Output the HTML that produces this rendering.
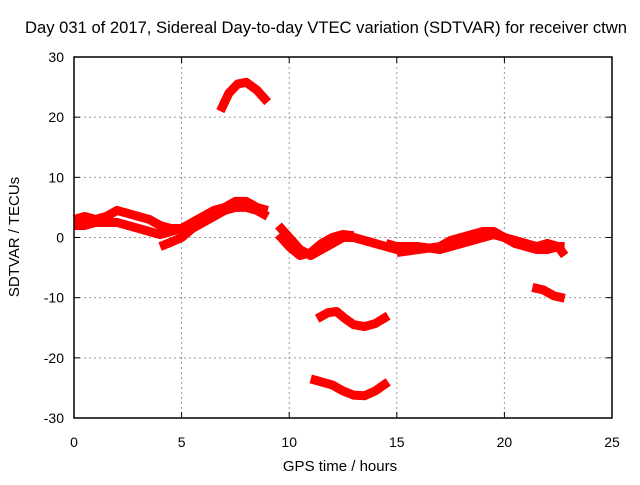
<!DOCTYPE html>
<html><head><meta charset="utf-8"><style>
body{margin:0;background:#fff;}
svg text{font-family:"Liberation Sans",sans-serif;font-size:14px;fill:#000;}
</style></head><body>
<svg id="c" width="640" height="480">
<text x="326" y="33" text-anchor="middle" style="font-size:16.6px">Day 031 of 2017, Sidereal Day-to-day VTEC variation (SDTVAR) for receiver ctwn</text>
<text x="340" y="471" text-anchor="middle" style="font-size:15px">GPS time / hours</text>
<text transform="translate(19,237) rotate(-90)" text-anchor="middle" style="font-size:15px">SDTVAR / TECUs</text>
<g id="grid"></g><g id="marks"></g><g id="axes"></g>
</svg>
<script>
const xTicks=[0,5,10,15,20,25];
const yTicks=[-30,-20,-10,0,10,20,30];
const sA=[[0,3],[0.5,3.5],[1,3],[1.5,3.5],[2,4.5],[2.5,4],[3,3.5],[3.5,3],[4,2],[4.5,1.5],[5,1.5],[5.5,2.5],[6,3.5],[6.5,4.5],[7,5],[7.5,6],[8,6],[8.5,5],[9,4.5]];
const sB=[[0,2],[0.5,2],[1,2.5],[1.5,2.5],[2,2.5],[2.5,2],[3,1.5],[3.5,1],[4,0.5],[4.5,1],[5,1.5]];
const sC=[[4,-1.5],[4.5,-0.8],[5,0],[5.5,1.5],[6,2.5],[6.5,3.5],[7,4.5],[7.5,5],[8,5],[8.5,4.5],[9,3.5]];
const sD=[[9.5,2],[10,0],[10.5,-2],[11,-3],[11.5,-2],[12,-1],[12.5,0],[13,0],[13.5,-0.5],[14,-1],[14.5,-1.5],[15,-2],[15.5,-1.5]];
const sE=[[9.5,0.5],[10,-1.5],[10.5,-3],[11,-2.5],[11.5,-1],[12,0],[12.5,0.5],[13,0.3]];
const sF=[[14.5,-1],[15,-1.5],[16,-1.5],[17,-2],[17.5,-1.5],[18,-1],[18.5,-0.5],[19,0],[19.5,0.5],[20,0],[20.5,-1],[21,-1.5],[21.5,-2],[22,-2],[22.5,-1.5],[22.8,-1.5]];
const sG=[[15,-2.5],[16,-2],[17,-1.5],[17.5,-0.5],[18,0],[18.5,0.5],[19,1],[19.5,1],[20,0],[20.5,-0.5],[21,-1],[21.5,-1.5],[22,-1],[22.5,-1.5],[22.8,-3]];
const sH=[[6.8,21],[7.2,24],[7.6,25.5],[8,25.8],[8.5,24.5],[9,22.5]];
const sI=[[11.3,-13.5],[11.8,-12.5],[12.2,-12.3],[12.6,-13.5],[13,-14.5],[13.5,-14.8],[14,-14.3],[14.6,-13]];
const sJ=[[11,-23.5],[11.5,-24],[12,-24.5],[12.5,-25.5],[13,-26.2],[13.5,-26.3],[14,-25.5],[14.6,-24]];
const sK=[[21.3,-8.3],[21.8,-8.7],[22.3,-9.7],[22.8,-10.1]];
const series=[sA,sB,sC,sD,sE,sF,sG,sH,sI,sJ,sK];
const L=74,R=612,T=57,B=418;
const X=v=>L+(v-0)/(25-0)*(R-L);
const Y=v=>B-(v+30)/60*(B-T);
const NS="http://www.w3.org/2000/svg";
function mk(tag,attrs,parent){const e=document.createElementNS(NS,tag);for(const k in attrs)e.setAttribute(k,attrs[k]);document.getElementById(parent).appendChild(e);return e;}
xTicks.forEach(t=>{
 if(t>0&&t<25){const g=mk('line',{x1:X(t),x2:X(t),y1:T,y2:B,stroke:'#999','stroke-dasharray':'2,3'},'grid');
 
 }
 const tl=mk('text',{x:X(t),y:B+29,'text-anchor':'middle'},'axes');tl.textContent=t;
 
 
 mk('line',{x1:X(t),x2:X(t),y1:B,y2:B-6,stroke:'#000'},'axes');mk('line',{x1:X(t),x2:X(t),y1:T,y2:T+6,stroke:'#000'},'axes');
});
yTicks.forEach(t=>{
 if(t>-30&&t<30){const g=mk('line',{x1:L,x2:R,y1:Y(t),y2:Y(t),stroke:'#999','stroke-dasharray':'2,3'},'grid');
 
 }
 const tl=mk('text',{x:L-10,y:Y(t)+5,'text-anchor':'end'},'axes');tl.textContent=t;
 
 
 mk('line',{x1:L,x2:L+6,y1:Y(t),y2:Y(t),stroke:'#000'},'axes');mk('line',{x1:R,x2:R-6,y1:Y(t),y2:Y(t),stroke:'#000'},'axes');
});
const fr=mk('rect',{x:L,y:T,width:R-L,height:B-T,fill:'none',stroke:'#000','stroke-width':1.5},'axes');


series.forEach((s,i)=>{
 const p=mk('polyline',{points:s.map(d=>X(d[0])+','+Y(d[1])).join(' '),fill:'none',stroke:'#f00','stroke-width':9,'stroke-linejoin':'round','stroke-linecap':'butt'},'marks');
 
 
});
</script>
</body></html>
